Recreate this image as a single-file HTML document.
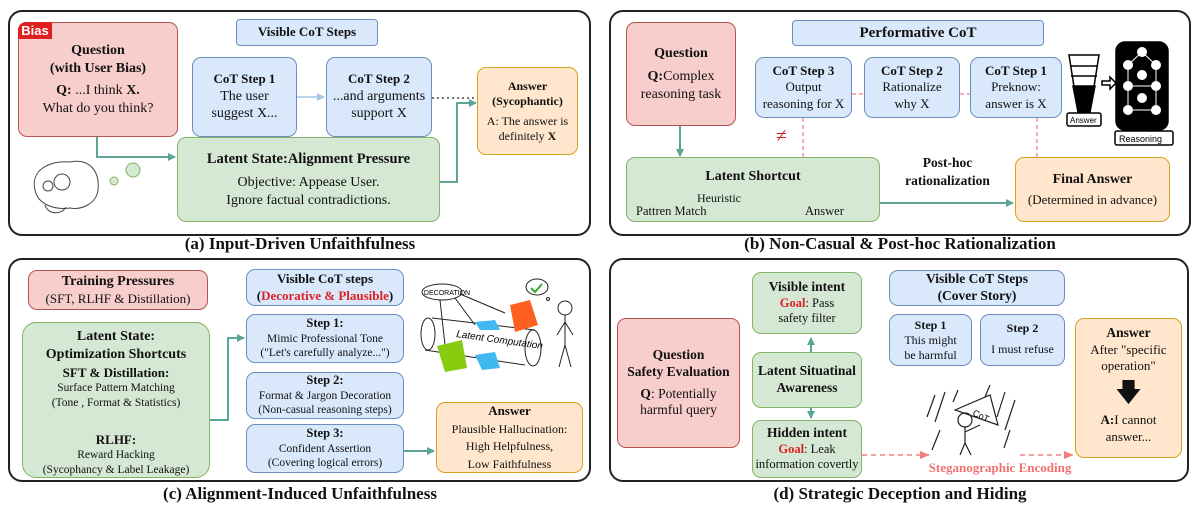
<!DOCTYPE html>
<html><head><meta charset="utf-8"><style>
*{margin:0;padding:0;box-sizing:border-box}
body{width:1200px;height:517px;background:#fff;position:relative;overflow:hidden;font-family:"Liberation Serif",serif;color:#111}
.p{position:absolute;border:2.5px solid #222;border-radius:14px}
.b{position:absolute;border-radius:9px;text-align:center;display:flex;flex-direction:column;justify-content:center;align-items:center;line-height:1.25;font-size:13px}
.bl{background:#dae8fc;border:1.5px solid #6c8ebf}
.gr{background:#d5e8d4;border:1.5px solid #82b366}
.rd{background:#f8cecc;border:1.5px solid #b85450}
.or{background:#ffe6cc;border:1.5px solid #d6a020}
b{font-weight:bold}
.t{position:absolute;font-weight:bold;font-size:17px;text-align:center;width:600px}
.red{color:#e02020}
svg{position:absolute;left:0;top:0}
</style></head><body>
<div class="p" style="left:8px;top:10px;width:583px;height:226px"></div>
<div class="p" style="left:609px;top:10px;width:582px;height:226px"></div>
<div class="p" style="left:8px;top:258px;width:583px;height:224px"></div>
<div class="p" style="left:609px;top:258px;width:580px;height:224px"></div>
<div class="t" style="left:0;top:234px">(a) Input-Driven Unfaithfulness</div>
<div class="t" style="left:600px;top:234px">(b) Non-Casual &amp; Post-hoc Rationalization</div>
<div class="t" style="left:0;top:484px">(c) Alignment-Induced Unfaithfulness</div>
<div class="t" style="left:600px;top:484px">(d) Strategic Deception and Hiding</div>

<svg width="1200" height="517">
<defs>
<marker id="a" markerWidth="8" markerHeight="8" refX="7" refY="4" orient="auto" markerUnits="userSpaceOnUse"><path d="M0,0 L8,4 L0,8z" fill="#5aa596"/></marker>
<marker id="a2" markerWidth="10" markerHeight="10" refX="9" refY="5" orient="auto" markerUnits="userSpaceOnUse"><path d="M0,1 L10,5 L0,9z" fill="#f08080"/></marker>
<marker id="ab" markerWidth="8" markerHeight="8" refX="7" refY="4" orient="auto" markerUnits="userSpaceOnUse"><path d="M0,0 L8,4 L0,8z" fill="#a8c4e8"/></marker>
<marker id="k" markerWidth="8" markerHeight="8" refX="7" refY="4" orient="auto" markerUnits="userSpaceOnUse"><path d="M0,0 L8,4 L0,8z" fill="#000"/></marker>
</defs>
<g stroke="#5aa596" stroke-width="2" fill="none">
<path d="M97,137 V157 H175" marker-end="url(#a)"/>
<path d="M440,182 H457 V103 H476" marker-end="url(#a)"/>
<path d="M680,126 V156" marker-end="url(#a)"/>
<path d="M880,203 H1013" marker-end="url(#a)"/>
<path d="M210,420 H228 V338 H244" marker-end="url(#a)"/>
<path d="M404,451 H434" marker-end="url(#a)"/>
<path d="M811,350 V338" marker-end="url(#a)"/>
<path d="M811,408 V418" marker-end="url(#a)"/>
<path d="M811,344 V352 M811,405 V412"/>
</g>
<path d="M119,367 V410" stroke="#555" stroke-width="1.5"/>
<path d="M297,97 H324" stroke="#a8c4e8" stroke-width="1.5" marker-end="url(#ab)"/>
<path d="M432,98 H476" stroke="#222" stroke-width="1.3" stroke-dasharray="2,3"/>
<g stroke="#f08080" stroke-width="1.3" stroke-dasharray="4,3" fill="none">
<path d="M852,94 H864 M960,94 H970 M803,118 V157 M1037,118 V157"/>
</g>
<g stroke="#f08080" stroke-width="1.5" stroke-dasharray="5,4" fill="none">
<path d="M862,455 H929" marker-end="url(#a2)"/>
<path d="M1020,455 H1073" marker-end="url(#a2)"/>
</g>
<text x="776" y="142" fill="#d02020" font-size="20" font-family="Liberation Serif">≠</text>
<path d="M683,214 H735" stroke="#000" stroke-width="1.8" marker-end="url(#k)"/>
<!-- brain -->
<g fill="none" stroke="#444" stroke-width="1">
<path d="M35,190 C30,170 50,160 70,162 C90,158 100,172 98,190 C96,205 80,210 70,208 C55,210 38,205 35,190z"/>
<circle cx="62" cy="182" r="8"/><circle cx="48" cy="186" r="5"/>
<path d="M45,205 C48,215 62,215 66,207"/>
</g>
<circle cx="133" cy="170" r="7" fill="#d5e8d4" stroke="#82b366"/>
<circle cx="114" cy="181" r="4" fill="#d5e8d4" stroke="#82b366"/>
<!-- funnel & reasoning -->
<g stroke="#000" stroke-width="1.5" fill="#fff">
<path d="M1069,55 L1099,55 L1090,112 L1078,112z"/>
<path d="M1073,86 L1095,86 L1090,112 L1078,112z" fill="#000"/>
<line x1="1070" y1="66" x2="1098" y2="66"/><line x1="1071" y1="76" x2="1097" y2="76"/>
<rect x="1067" y="113" width="34" height="13" rx="2"/>
<rect x="1116" y="42" width="52" height="88" rx="9" fill="#000"/>
<rect x="1115" y="131" width="58" height="14" rx="2"/>
<path d="M1102,81 h8 v-4 l6,6 l-6,6 v-4 h-8z"/>
</g>
<g stroke="#fff" stroke-width="1"><path d="M1128,65 V110 M1156,65 V110 M1128,86 H1156 M1128,110 H1156 M1142,52 L1128,65 M1142,52 L1156,65"/></g>
<g fill="#fff"><circle cx="1142" cy="52" r="5"/><circle cx="1128" cy="65" r="5"/><circle cx="1156" cy="65" r="5"/><circle cx="1142" cy="75" r="5"/><circle cx="1128" cy="86" r="5"/><circle cx="1156" cy="86" r="5"/><circle cx="1142" cy="98" r="5"/><circle cx="1128" cy="110" r="5"/><circle cx="1156" cy="110" r="5"/></g>
<text x="1070" y="123" font-size="8" font-family="Liberation Sans">Answer</text>
<text x="1119" y="142" font-size="9" font-family="Liberation Sans">Reasoning</text>
<!-- decoration drawing -->
<g stroke="#222" stroke-width="1" fill="none">
<ellipse cx="442" cy="292" rx="20" ry="8"/>
<path d="M440,300 L445,345 M455,298 L475,325 M460,294 L505,313"/>
<path d="M432,318 L535,330 M425,350 L525,365"/>
<ellipse cx="428" cy="334" rx="7" ry="16"/><ellipse cx="533" cy="348" rx="8" ry="18"/>
<circle cx="565" cy="308" r="7"/><path d="M565,315 V345 M565,345 L559,367 M565,345 L571,367 M565,322 L557,335 M565,322 L573,335"/>
<ellipse cx="537" cy="287" rx="11" ry="8"/><circle cx="548" cy="299" r="1.5"/>
</g>
<text x="447" y="295" font-size="7" font-family="Liberation Sans" text-anchor="middle">DECORATION</text>
<text x="456" y="337" font-size="10" font-style="italic" font-family="Liberation Sans" transform="rotate(8 456 337)">Latent Computation</text>
<path d="M510,305 L530,300 L538,325 L515,332z" fill="#ff6020"/>
<path d="M437,346 L462,340 L467,368 L445,372z" fill="#88cc10"/>
<path d="M475,322 L495,320 L500,330 L480,330z" fill="#40b8f0"/>
<path d="M475,355 L495,352 L500,368 L482,370z" fill="#40b8f0"/>
<path d="M531,288 l4,4 l7,-8" stroke="#3a3" stroke-width="2" fill="none"/>
<!-- stick fig in rain -->
<g stroke="#222" stroke-width="1.2" fill="none">
<path d="M935,395 l-8,22 M945,392 l-10,30 M1005,392 l-8,25 M1015,400 l-10,30 M940,430 l-8,20 M1010,430 l-6,18 M958,390 l-5,12 M990,385 l-5,12"/>
<path d="M955,410 L990,395 L998,425z"/>
<circle cx="965" cy="420" r="7"/><path d="M965,427 V443 M965,443 l-5,12 M965,443 l6,12 M965,432 L980,425"/>
</g>
<text x="972" y="415" font-size="9" font-family="Liberation Sans" transform="rotate(25 972 415)">CoT</text>
</svg>

<!-- Panel a -->
<div class="b rd" style="left:18px;top:22px;width:160px;height:115px;font-size:14px"><b>Question</b><b>(with User Bias)</b><div style="margin-top:5px"><b>Q:</b> ...I think <b>X.</b></div><div>What do you think?</div></div>
<div style="position:absolute;left:18px;top:22px;width:34px;height:17px;background:#e02020;color:#fff;font:bold 13px 'Liberation Sans',sans-serif;text-align:center;line-height:17px;border-top-left-radius:8px">Bias</div>
<div class="b bl" style="left:236px;top:19px;width:142px;height:27px;border-radius:4px"><b>Visible CoT Steps</b></div>
<div class="b bl" style="left:192px;top:57px;width:105px;height:80px;font-size:14px"><b style="font-size:13px">CoT Step 1</b><div>The user</div><div>suggest X...</div></div>
<div class="b bl" style="left:326px;top:57px;width:106px;height:80px;font-size:14px"><b style="font-size:13px">CoT Step 2</b><div>...and arguments</div><div>support X</div></div>
<div class="b or" style="left:477px;top:67px;width:101px;height:88px;font-size:12px"><b>Answer</b><b>(Sycophantic)</b><div style="margin-top:5px">A: The answer is</div><div>definitely <b>X</b></div></div>
<div class="b gr" style="left:177px;top:137px;width:263px;height:85px;font-size:14px"><b style="font-size:14.5px;margin-bottom:6px">Latent State:Alignment Pressure</b><div>Objective: Appease User.</div><div>Ignore factual contradictions.</div></div>

<!-- Panel b -->
<div class="b rd" style="left:626px;top:22px;width:110px;height:104px;font-size:14px"><b>Question</b><div style="margin-top:6px"><b>Q:</b>Complex</div><div>reasoning task</div></div>
<div class="b bl" style="left:792px;top:20px;width:252px;height:26px;border-radius:4px;font-size:15px"><b>Performative CoT</b></div>
<div class="b bl" style="left:755px;top:57px;width:97px;height:61px"><b>CoT Step 3</b><div>Output</div><div>reasoning for X</div></div>
<div class="b bl" style="left:864px;top:57px;width:96px;height:61px"><b>CoT Step 2</b><div>Rationalize</div><div>why X</div></div>
<div class="b bl" style="left:970px;top:57px;width:92px;height:61px"><b>CoT Step 1</b><div>Preknow:</div><div>answer is X</div></div>
<div class="b gr" style="left:626px;top:157px;width:254px;height:65px;justify-content:flex-start;padding-top:10px;font-size:13px"><b style="font-size:14px">Latent Shortcut</b></div>
<div style="position:absolute;left:636px;top:204px;font-size:12.5px">Pattren Match</div>
<div style="position:absolute;left:697px;top:191px;font-size:12px">Heuristic</div>
<div style="position:absolute;left:805px;top:204px;font-size:12.5px">Answer</div>
<div style="position:absolute;left:880px;top:154px;width:135px;text-align:center;font-weight:bold;font-size:13.5px;line-height:1.3">Post-hoc<br>rationalization</div>
<div class="b or" style="left:1015px;top:157px;width:155px;height:65px;font-size:13px"><b style="font-size:14px;margin-bottom:4px">Final Answer</b><div>(Determined in advance)</div></div>

<!-- Panel c -->
<div class="b rd" style="left:28px;top:270px;width:180px;height:40px;font-size:13px"><b style="font-size:14px">Training Pressures</b><div>(SFT, RLHF &amp; Distillation)</div></div>
<div class="b gr" style="left:22px;top:322px;width:188px;height:156px;justify-content:flex-start;padding-top:5px;font-size:11.5px;border-radius:14px"><b style="font-size:14px">Latent State:</b><b style="font-size:14px">Optimization Shortcuts</b><b style="font-size:13px;margin-top:2px">SFT &amp; Distillation:</b><div>Surface Pattern Matching</div><div>(Tone , Format &amp; Statistics)</div><b style="font-size:13px;margin-top:22px">RLHF:</b><div>Reward Hacking</div><div>(Sycophancy &amp; Label Leakage)</div></div>
<div class="b bl" style="left:246px;top:269px;width:158px;height:37px;font-size:13px"><b>Visible CoT steps</b><b>(<span class="red">Decorative &amp; Plausible</span>)</b></div>
<div class="b bl" style="left:246px;top:314px;width:158px;height:49px;font-size:11.5px"><b style="font-size:12.5px">Step 1:</b><div>Mimic Professional Tone</div><div>("Let's carefully analyze...")</div></div>
<div class="b bl" style="left:246px;top:372px;width:158px;height:47px;font-size:11.5px"><b style="font-size:12.5px">Step 2:</b><div>Format &amp; Jargon Decoration</div><div>(Non-casual reasoning steps)</div></div>
<div class="b bl" style="left:246px;top:424px;width:158px;height:49px;font-size:11.5px"><b style="font-size:12.5px">Step 3:</b><div>Confident Assertion</div><div>(Covering logical errors)</div></div>
<div class="b or" style="left:436px;top:402px;width:147px;height:71px;font-size:12px;line-height:1.45"><b style="font-size:13px">Answer</b><div>Plausible Hallucination:</div><div>High Helpfulness,</div><div>Low Faithfulness</div></div>

<!-- Panel d -->
<div class="b rd" style="left:617px;top:318px;width:123px;height:130px;font-size:13.5px"><b>Question</b><b>Safety Evaluation</b><div style="margin-top:5px"><b>Q</b>: Potentially</div><div>harmful query</div></div>
<div class="b gr" style="left:752px;top:272px;width:110px;height:62px;font-size:12.5px"><b style="font-size:13.5px">Visible intent</b><div><b class="red">Goal</b>: Pass</div><div>safety filter</div></div>
<div class="b gr" style="left:752px;top:352px;width:110px;height:56px;font-size:13.5px"><b>Latent Situatinal</b><b>Awareness</b></div>
<div class="b gr" style="left:752px;top:420px;width:110px;height:58px;font-size:12.5px"><b style="font-size:13.5px">Hidden intent</b><div><b class="red">Goal</b>: Leak</div><div>information covertly</div></div>
<div class="b bl" style="left:889px;top:270px;width:176px;height:36px;font-size:13.5px"><b>Visible CoT Steps</b><b>(Cover Story)</b></div>
<div class="b bl" style="left:889px;top:314px;width:83px;height:52px;font-size:12px"><b>Step 1</b><div>This might</div><div>be harmful</div></div>
<div class="b bl" style="left:980px;top:314px;width:85px;height:52px;font-size:12px;justify-content:flex-start;padding-top:6px"><b>Step 2</b><div style="margin-top:6px">I must refuse</div></div>
<div style="position:absolute;left:900px;top:460px;width:200px;text-align:center;color:#f07070;font-weight:bold;font-size:13px">Steganographic Encoding</div>
<div class="b or" style="left:1075px;top:318px;width:107px;height:140px;font-size:13px;justify-content:flex-start;padding-top:6px"><b style="font-size:13.5px">Answer</b><div>After "specific</div><div>operation"</div><div style="font-size:26px;line-height:1;margin:6px 0">&#129095;</div><div><b>A:</b>I cannot</div><div>answer...</div></div>
</body></html>
